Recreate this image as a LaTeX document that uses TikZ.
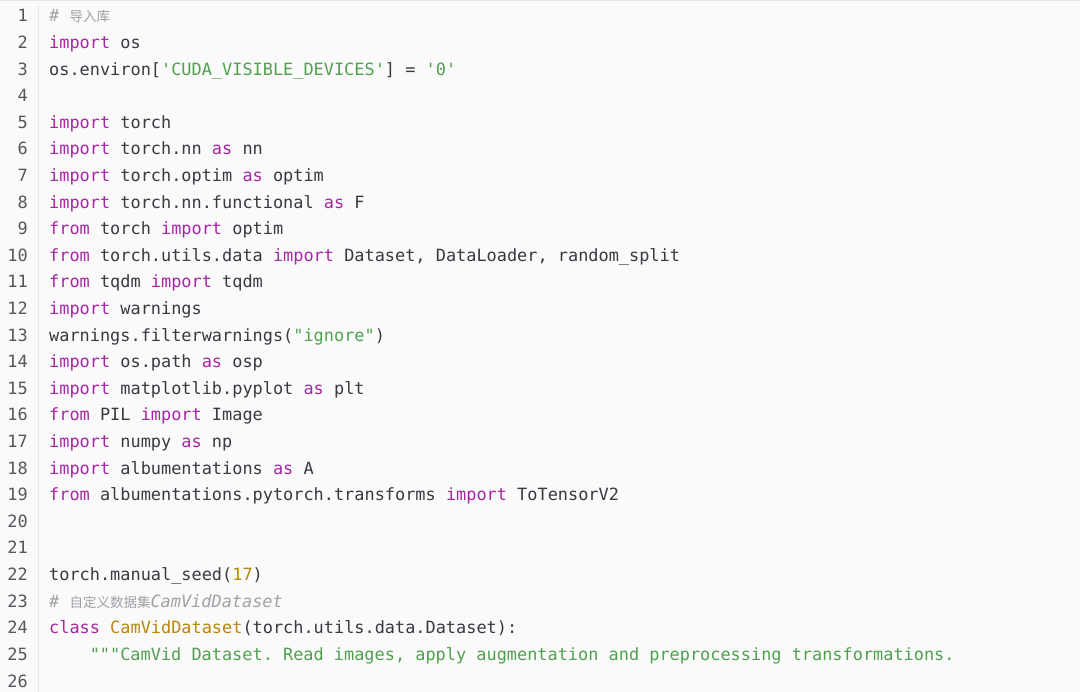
\documentclass[tikz,border=0pt]{standalone}
\usepackage{fontspec}
\setmonofont{DejaVu Sans Mono}
\newfontfamily\cjk{Noto Sans CJK SC}
\usetikzlibrary{positioning}
\definecolor{codebg}{HTML}{FAFAFA}
\definecolor{codefg}{HTML}{383A42}
\definecolor{kwcol}{HTML}{A626A4}
\definecolor{strcol}{HTML}{50A14F}
\definecolor{cmtcol}{HTML}{A0A1A7}
\definecolor{numcol}{HTML}{B8860B}
\definecolor{gutcol}{HTML}{E6E6E6}
\newcommand{\kw}[1]{\textcolor{kwcol}{#1}}
\newcommand{\str}[1]{\textcolor{strcol}{#1}}
\newcommand{\num}[1]{\textcolor{numcol}{#1}}
\newcommand{\cmt}[1]{\textcolor{cmtcol}{\itshape #1}}
\newcommand{\zh}[1]{{\cjk\fontsize{13.5}{14}\selectfont #1}}
\tikzset{
  codeline/.style={anchor=base west, inner sep=0pt, text=codefg, font=\ttfamily\fontsize{16.9}{20}\selectfont},
  lineno/.style={anchor=base east, inner sep=0pt, text=codefg!85, font=\ttfamily\fontsize{16.9}{20}\selectfont}
}
\begin{document}
\begin{tikzpicture}[x=1pt, y=-1pt]
    \fill[codebg] (0,0) rectangle (1080,692);
    \useasboundingbox (0,0) rectangle (1080,692);
    \draw[gutcol] (0,0.5) -- (1080,0.5);
    \draw[gutcol] (38,6) -- (38,692);

    % line numbers
    \foreach \i in {1,...,26}
        \node[lineno] (n\i) at (28, {22+26.6*(\i-1)}) {\i};

    % code
    \node[codeline] (l1) at (49,22) {\cmt{\# \zh{导入库}}};
    \node[codeline] (l2) at (49,{22+26.6*1}) {\kw{import} os};
    \node[codeline] (l3) at (49,{22+26.6*2}) {os.environ[\str{'CUDA\_VISIBLE\_DEVICES'}] = \str{'0'}};
    \node[codeline] (l5) at (49,{22+26.6*4}) {\kw{import} torch};
    \node[codeline] (l6) at (49,{22+26.6*5}) {\kw{import} torch.nn \kw{as} nn};
    \node[codeline] (l7) at (49,{22+26.6*6}) {\kw{import} torch.optim \kw{as} optim};
    \node[codeline] (l8) at (49,{22+26.6*7}) {\kw{import} torch.nn.functional \kw{as} F};
    \node[codeline] (l9) at (49,{22+26.6*8}) {\kw{from} torch \kw{import} optim};
    \node[codeline] (l10) at (49,{22+26.6*9}) {\kw{from} torch.utils.data \kw{import} Dataset, DataLoader, random\_split};
    \node[codeline] (l11) at (49,{22+26.6*10}) {\kw{from} tqdm \kw{import} tqdm};
    \node[codeline] (l12) at (49,{22+26.6*11}) {\kw{import} warnings};
    \node[codeline] (l13) at (49,{22+26.6*12}) {warnings.filterwarnings(\str{"ignore"})};
    \node[codeline] (l14) at (49,{22+26.6*13}) {\kw{import} os.path \kw{as} osp};
    \node[codeline] (l15) at (49,{22+26.6*14}) {\kw{import} matplotlib.pyplot \kw{as} plt};
    \node[codeline] (l16) at (49,{22+26.6*15}) {\kw{from} PIL \kw{import} Image};
    \node[codeline] (l17) at (49,{22+26.6*16}) {\kw{import} numpy \kw{as} np};
    \node[codeline] (l18) at (49,{22+26.6*17}) {\kw{import} albumentations \kw{as} A};
    \node[codeline] (l19) at (49,{22+26.6*18}) {\kw{from} albumentations.pytorch.transforms \kw{import} ToTensorV2};
    \node[codeline] (l22) at (49,{22+26.6*21}) {torch.manual\_seed(\num{17})};
    \node[codeline] (l23) at (49,{22+26.6*22}) {\cmt{\# \zh{自定义数据集}CamVidDataset}};
    \node[codeline] (l24) at (49,{22+26.6*23}) {\kw{class} \num{CamVidDataset}(torch.utils.data.Dataset):};
    \node[codeline] (l25) at (89.6,{22+26.6*24}) {\str{"""CamVid Dataset. Read images, apply augmentation and preprocessing transformations.}};
\end{tikzpicture}
\end{document}
